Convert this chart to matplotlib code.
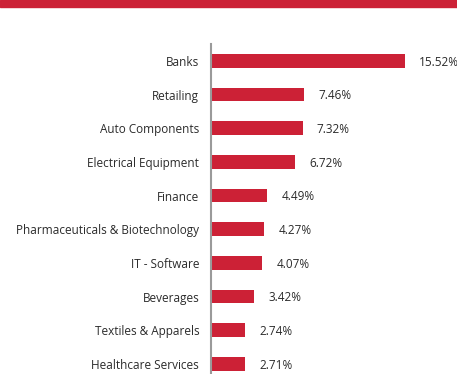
import matplotlib
matplotlib.use("Agg")
import matplotlib.pyplot as plt
from matplotlib.patches import Rectangle

sectors = ["Banks", "Retailing", "Auto Components", "Electrical Equipment",
           "Finance", "Pharmaceuticals & Biotechnology", "IT - Software",
           "Beverages", "Textiles & Apparels", "Healthcare Services"]
weights = [15.52, 7.46, 7.32, 6.72, 4.49, 4.27, 4.07, 3.42, 2.74, 2.71]

RED = "#cc2136"
TEXT = "#2b2b2b"

plt.rcParams["font.family"] = ["Open Sans", "DejaVu Sans"]

fig = plt.figure(figsize=(4.57, 3.74), dpi=100)
fig.patches.append(Rectangle((0, 1 - 6.5 / 374), 1, 6.5 / 374,
                             transform=fig.transFigure, color=RED, zorder=0))

W, H = 457, 374
ax = fig.add_axes([211 / W, 0, (W - 211) / W, (374 - 44) / H])

pos = list(range(len(sectors)))
ax.barh(pos, weights, height=0.41, color=RED, zorder=2)
ax.set_ylim(9.3, -0.5)
ax.set_xlim(0, (W - 211) / 12.5)

for p, w in zip(pos, weights):
    ax.text(w + 1.15, p + 0.04, f"{w:.2f}%", va="center", ha="left",
            fontsize=8.5, color=TEXT)

ax.set_yticks(pos)
ax.set_yticklabels(sectors, fontsize=8.5, color=TEXT)
ax.tick_params(axis="y", length=0, pad=8.5)
ax.set_xticks([])
for side in ["top", "right", "bottom"]:
    ax.spines[side].set_visible(False)
ax.spines["left"].set_color("#9a9a9a")
ax.spines["left"].set_linewidth(1.5)

fig.savefig("out.png", dpi=100)
